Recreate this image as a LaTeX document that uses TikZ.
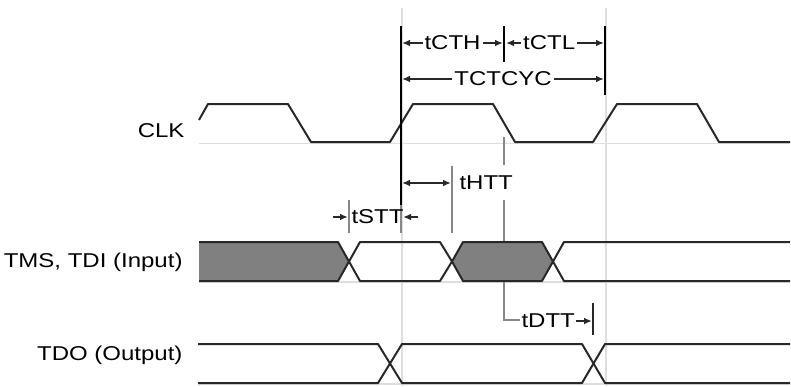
\documentclass[tikz,border=0pt]{standalone}
\usepackage{fontspec}
\setmainfont{Liberation Sans}[FakeStretch=1.2]
\usetikzlibrary{arrows.meta}

\definecolor{sigcol}{RGB}{40,40,40}
\definecolor{guidecol}{RGB}{222,222,222}
\definecolor{markcol}{RGB}{135,135,135}
\definecolor{busfill}{RGB}{128,128,128}

\tikzset{every picture/.style={line width=0.75pt}}
\tikzset{
  wave/.style={draw=sigcol, line width=1.5pt, line join=round},
  guide/.style={draw=guidecol, line width=2.2pt},
  baseln/.style={draw=guidecol, line width=1pt},
  markln/.style={draw=markcol, line width=1.5pt},
  barln/.style={draw=black, line width=2pt},
  dimln/.style={draw=sigcol, line width=1.2pt, arrows={-{Latex[length=6pt,width=5pt]}}},
  dimboth/.style={dimln, arrows={{Latex[length=6pt,width=5pt]}-{Latex[length=6pt,width=5pt]}}},
  lbl/.style={inner sep=0.75pt, font=\fontsize{15}{17}\selectfont},
  dimlbl/.style={lbl, fill=white, inner sep=1.5pt}
}

\begin{document}
\begin{tikzpicture}[x=0.75pt,y=0.75pt,yscale=-1,xscale=1]
\path[use as bounding box] (0,0) rectangle (791,386);

% guide lines
\draw[guide] (402,8) -- (402,386);
\draw[guide] (606,8) -- (606,386);
\draw[baseln] (199,143.5) -- (790,143.5);
\draw[baseln] (199,282) -- (790,282);
\draw[baseln] (198,384) -- (790,384);

% tDTT reference line
\coordinate (dttTop) at (504,137);
\coordinate (dttMid) at (504,165);
\coordinate (dttLow) at (504,200);
\coordinate (dttCorner) at (504,320);
\draw[markln] (dttTop) -- (dttMid);
\draw[markln] (dttLow) -- (dttCorner) -- (520,320);

% CLK
\draw[wave] (199,120) -- (208,104) -- (288,104) -- (311,142) -- (390,142) -- (413,104) -- (493,104) -- (515,142) -- (593,142) -- (617,104) -- (697,104) -- (719,142) -- (790,142);

% TMS, TDI
\filldraw[wave, fill=busfill] (199,242) -- (338,242) -- (349,261.5) -- (338,281) -- (199,281);
\draw[wave] (360,242) -- (440,242) -- (452,261.5) -- (440,281) -- (360,281) -- (349,261.5) -- cycle;
\filldraw[wave, fill=busfill] (463,242) -- (542,242) -- (553,261.5) -- (542,281) -- (463,281) -- (452,261.5) -- cycle;
\draw[wave] (790,242) -- (564,242) -- (553,261.5) -- (564,281) -- (790,281);

% TDO
\draw[wave] (198,344) -- (378,344) -- (402,383) -- (582,383) -- (605,344) -- (790,344);
\draw[wave] (198,383) -- (378,383) -- (402,344) -- (582,344) -- (605,383) -- (790,383);

% signal names
\node (clkName) [lbl, anchor=east] at (186,131) {CLK};
\node (tmsName) [lbl, anchor=east] at (184,262) {TMS, TDI (Input)};
\node (tdoName) [lbl, anchor=east] at (184,355) {TDO (Output)};

% bars
\coordinate (cycA) at (401,26);
\coordinate (cycB) at (605,26);
\coordinate (half) at (504,26);
\draw[barln] (cycA) -- (401,205);
\draw[markln, line width=1pt] (401,205) -- (401,233);
\draw[barln] (half) -- (504,62);
\draw[barln] (cycB) -- (605,95);
\coordinate (httBar) at (452,166);
\draw[markln] (httBar) -- (452,233);
\coordinate (sttBar) at (349,200);
\draw[markln] (sttBar) -- (349,233);
\coordinate (dttBar) at (593,303);
\draw[draw=sigcol, line width=1.5pt] (dttBar) -- (593,335);

% clock timing
\draw[dimboth] (402,43) -- (503,43) node (cthLbl) [dimlbl, pos=0.5] {tCTH};
\draw[dimboth] (506,43) -- (604,43) node (ctlLbl) [dimlbl, pos=0.44] {tCTL};
\draw[dimboth] (402,79) -- (604,79) node (cycLbl) [dimlbl, pos=0.5] {TCTCYC};

% hold and setup
\draw[dimboth] (402,183) -- (451,183);
\node (httLbl) [lbl, anchor=west] at (458,183) {tHTT};
\draw[dimln] (333,217) -- (348,217);
\node (sttLbl) [lbl, anchor=west] at (350,217) {tSTT};
\draw[dimln] (418,217) -- (403,217);

% delay
\node (dttLbl) [lbl, anchor=west] at (520,321) {tDTT};
\draw[dimln] (dttLbl.east) -- (592,321);

\end{tikzpicture}
\end{document}
